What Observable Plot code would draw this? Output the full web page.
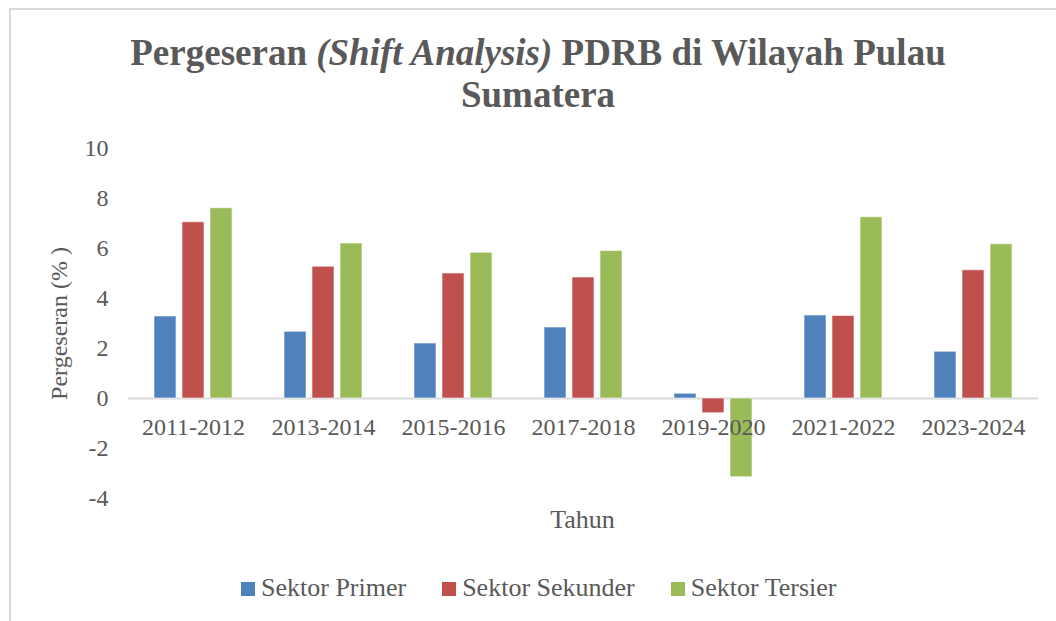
<!DOCTYPE html>
<html>
<head>
<meta charset="utf-8">
<script src="https://cdn.jsdelivr.net/npm/d3@7"></script>
<script src="https://cdn.jsdelivr.net/npm/@observablehq/plot@0.6"></script>
<style>
  html, body { margin: 0; padding: 0; background: #fff; }
  body { width: 1056px; height: 621px; position: relative; overflow: hidden; font-family: "Liberation Serif", "Times New Roman", serif; color: #595959; }
  #frame { position: absolute; left: 9px; top: 8px; width: 1200px; height: 800px; border-left: 2px solid #d9d9d9; border-top: 2px solid #d9d9d9; }
  #title { position: absolute; left: 0; top: 32px; width: 1076px; text-align: center; font-size: 37px; font-weight: bold; line-height: 42px; }
  #title i { font-weight: bold; font-style: italic; }
  #chart { position: absolute; left: 0; top: 125px; }
  #xlabel { position: absolute; left: 127px; width: 911px; top: 507px; text-align: center; font-size: 26px; line-height: 26px; }
  #legend { position: absolute; left: 241px; top: 575px; font-size: 26px; line-height: 26px; white-space: nowrap; }
  #legend .item { display: inline-block; margin-right: 36px; }
  #legend .sw { display: inline-block; width: 14px; height: 14px; margin-right: 6px; }
</style>
</head>
<body>
<div id="frame"></div>
<div id="title">Pergeseran <i>(Shift Analysis)</i> PDRB di Wilayah Pulau<br>Sumatera</div>
<div id="chart"></div>
<div id="xlabel">Tahun</div>
<div id="legend"></div>
<script>
const categories = ["2011-2012", "2013-2014", "2015-2016", "2017-2018", "2019-2020", "2021-2022", "2023-2024"];
const series = ["Sektor Primer", "Sektor Sekunder", "Sektor Tersier"];
const colors = ["#4F81BD", "#C0504D", "#9BBB59"];
const primer   = [3.28, 2.67, 2.20, 2.84, 0.19, 3.32, 1.87];
const sekunder = [7.05, 5.27, 5.00, 4.84, -0.59, 3.30, 5.13];
const tersier  = [7.61, 6.20, 5.83, 5.90, -3.15, 7.25, 6.17];
const yTicks = [-4, -2, 0, 2, 4, 6, 8, 10];

const valuesBySeries = [primer, sekunder, tersier];
const data = [];
categories.forEach((c, i) => {
  series.forEach((s, j) => data.push({tahun: c, sektor: s, nilai: valuesBySeries[j][i]}));
});

const plot = Plot.plot({
  width: 1056,
  height: 420,
  marginTop: 23,
  marginBottom: 47,
  marginLeft: 127,
  marginRight: 18,
  style: {fontFamily: "'Liberation Serif', 'Times New Roman', serif", fontSize: "24px", color: "#595959", background: "transparent"},
  fx: {domain: categories, padding: 0, axis: null},
  x: {domain: series, paddingInner: 0.207, paddingOuter: 0.845, axis: null},
  y: {domain: [-4, 10], ticks: yTicks, tickFormat: d => String(d), tickSize: 0, tickPadding: 20, label: "Pergeseran (% )", labelAnchor: "center", labelArrow: "none", labelOffset: 79},
  color: {domain: series, range: colors},
  marks: [
    Plot.ruleY([0], {stroke: "#d9d9d9", strokeWidth: 2}),
    Plot.barY(data, {fx: "tahun", x: "sektor", y: "nilai", fill: "sektor", stroke: "#ffffff", strokeOpacity: 0.6, strokeWidth: 1}),
    Plot.text(categories, {fx: d => d, y: 0, text: d => d, dy: 29, fill: "#595959", fontSize: 24})
  ]
});
document.getElementById("chart").appendChild(plot);

const legend = document.getElementById("legend");
series.forEach((s, j) => {
  const item = document.createElement("span");
  item.className = "item";
  const sw = document.createElement("span");
  sw.className = "sw";
  sw.style.background = colors[j];
  item.appendChild(sw);
  item.appendChild(document.createTextNode(s));
  legend.appendChild(item);
});
</script>
</body>
</html>
